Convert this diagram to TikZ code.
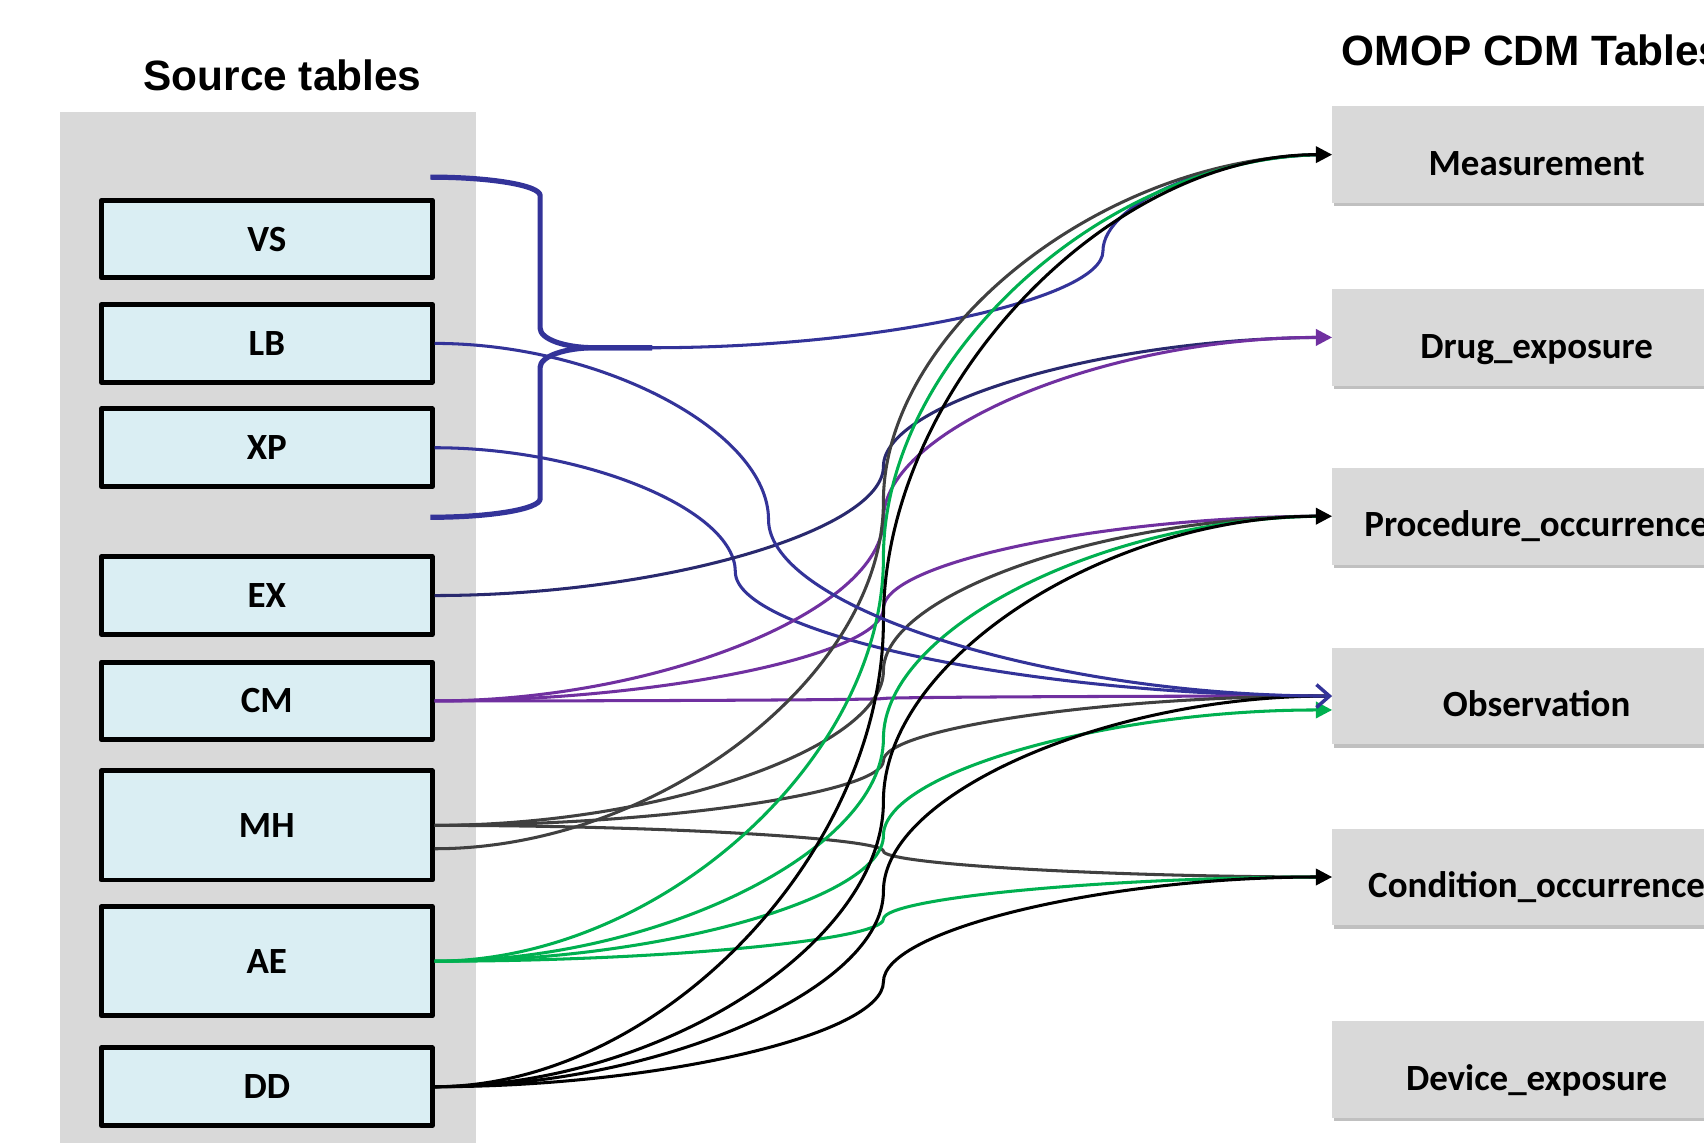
\documentclass[tikz,border=0pt]{standalone}
\usepackage{fontspec}
\setmainfont{Carlito}
\newfontfamily\titlefont{Liberation Sans}
\usetikzlibrary{calc,arrows.meta,shadows}
\definecolor{srcfill}{HTML}{DAEEF3}
\definecolor{panelgray}{HTML}{D9D9D9}
\definecolor{tgtfill}{HTML}{D9D9D9}
\definecolor{cNavy}{HTML}{333399}
\definecolor{cNavyD}{HTML}{29296E}
\definecolor{cPurple}{HTML}{7030A0}
\definecolor{cGray}{HTML}{404040}
\definecolor{cGreen}{HTML}{00B050}
\tikzset{
  cc/.style={to path={let \p1=(\tikztostart), \p2=(\tikztotarget),
     \n1={\x1+#1*(\x2-\x1)}, \n2={(\y1+\y2)/2} in
     .. controls ({(\x1+\n1)/2},\y1) and (\n1,{(3*\y1+\y2)/4}) .. (\n1,\n2)
     .. controls (\n1,{(\y1+3*\y2)/4}) and ({(\n1+\x2)/2},\y2) .. (\p2)}},
  cc/.default=0.5,
  srcbox/.style={draw=black, line width=4.5pt, fill=srcfill, line join=round,
     minimum width=304.5pt, minimum height=71.5pt, inner sep=0pt,
     font=\fontsize{34}{40}\selectfont\bfseries, text height=22pt, text depth=0pt},
  tallbox/.style={minimum height=100.5pt},
  tgtbox/.style={fill=tgtfill, minimum width=376pt, minimum height=89pt, inner sep=0pt,
     font=\fontsize{34}{40}\selectfont\bfseries, text height=38pt, text depth=0pt,
     drop shadow={shadow xshift=1.5pt, shadow yshift=-3pt, opacity=0.35, fill=black!70}},
  titletext/.style={font=\titlefont\fontsize{39}{46}\selectfont\bfseries, inner sep=0pt},
  conn/.style={line width=2.8pt},
  noarr/.style={shorten >=6pt},
  tri/.style={-{Triangle[length=15pt,width=15pt]}},
  barb/.style={-{Straight Barb[length=12pt,width=21pt,line width=3.2pt]}},
}
\begin{document}
\begin{tikzpicture}[x=1pt,y=1pt]
\useasboundingbox (0,0) rectangle (1568,-1051);
\clip (0,0) rectangle (1568,-1051);
\fill[white] (0,0) rectangle (1568,-1051);

% titles
\node[titletext, anchor=base] (srctitle) at (260,-83) {Source tables};
\node[titletext, anchor=base west] (omoptitle) at (1234.5,-60.7) {OMOP CDM Tables};

% left panel
\fill[panelgray] (55,-103) rectangle (438,-1060);

% source boxes
\node[srcbox] (VS) at (245.5,-220) {VS};
\node[srcbox] (LB) at (245.5,-316) {LB};
\node[srcbox] (XP) at (245.5,-412) {XP};
\node[srcbox] (EX) at (245.5,-548) {EX};
\node[srcbox] (CM) at (245.5,-645) {CM};
\node[srcbox, tallbox] (MH) at (245.5,-759.5) {MH};
\node[srcbox, tallbox] (AE) at (245.5,-884.5) {AE};
\node[srcbox] (DD) at (245.5,-1000) {DD};

% target boxes
\node[tgtbox] (Meas) at (1414,-142.3) {Measurement};
\node[tgtbox] (Drug) at (1414,-310.5) {Drug\_exposure};
\node[tgtbox] (Proc) at (1414,-475) {Procedure\_occurrence};
\node[tgtbox] (Obs) at (1414,-640.5) {Observation};
\node[tgtbox] (Cond) at (1414,-807) {Condition\_occurrence};
\node[tgtbox] (Dev) at (1414,-984) {Device\_exposure};

% helper coordinates
\coordinate (MH2) at ($(MH.east)+(0,-21.5)$);
\coordinate (Obs2) at ($(Obs.west)+(0,-12.8)$);
\coordinate (braceTop) at (396,-163);
\coordinate (braceBot) at (396,-476);
\coordinate (tip) at (600,-320);

% brace
\draw[cNavy, line width=4.8pt, line join=round]
  (braceTop) arc[start angle=90, end angle=0, x radius=101, y radius=17]
  -- (497,-302) arc[start angle=180, end angle=270, x radius=50, y radius=18]
  -- (tip);
\draw[cNavy, line width=4.8pt, line join=round]
  (tip) -- (547,-320) arc[start angle=90, end angle=180, x radius=50, y radius=18]
  -- (497,-459) arc[start angle=0, end angle=-90, x radius=101, y radius=17]
  -- (braceBot);

% navy connectors
\draw[conn, noarr, cNavy] (tip) to[cc=0.663] (Meas.west);
\draw[conn, noarr, cNavy] (XP.east) to[cc=0.335] (Obs.west);
\draw[conn, noarr, cNavyD] (EX.east) to[cc] (Drug.west);

% purple
\draw[conn, noarr, cPurple] (CM.east) to[cc] (Proc.west);
\draw[conn, noarr, cPurple] (CM.east) to[cc] (Obs.west);
\draw[conn, tri, cPurple] (CM.east) to[cc] (Drug.west);

% dark gray
\draw[conn, noarr, cGray] (MH2) to[cc] (Meas.west);
\draw[conn, noarr, cGray] (MH.east) to[cc] (Proc.west);
\draw[conn, noarr, cGray] (MH.east) to[cc] (Obs.west);
\draw[conn, noarr, cGray] (MH.east) to[cc] (Cond.west);

% green
\draw[conn, noarr, cGreen] (AE.east) to[cc] (Meas.west);
\draw[conn, noarr, cGreen] (AE.east) to[cc] (Proc.west);
\draw[conn, noarr, cGreen] (AE.east) to[cc] (Cond.west);
\draw[conn, tri, cGreen] (AE.east) to[cc] (Obs2);

% black
\draw[conn, noarr, black] (DD.east) to[cc] (Obs.west);
\draw[conn, tri, black] (DD.east) to[cc] (Meas.west);
\draw[conn, tri, black] (DD.east) to[cc] (Proc.west);
\draw[conn, tri, black] (DD.east) to[cc] (Cond.west);

% navy LB -> Observation (on top)
\draw[conn, barb, cNavy] (LB.east) to[cc=0.372] (Obs.west);
\end{tikzpicture}
\end{document}
